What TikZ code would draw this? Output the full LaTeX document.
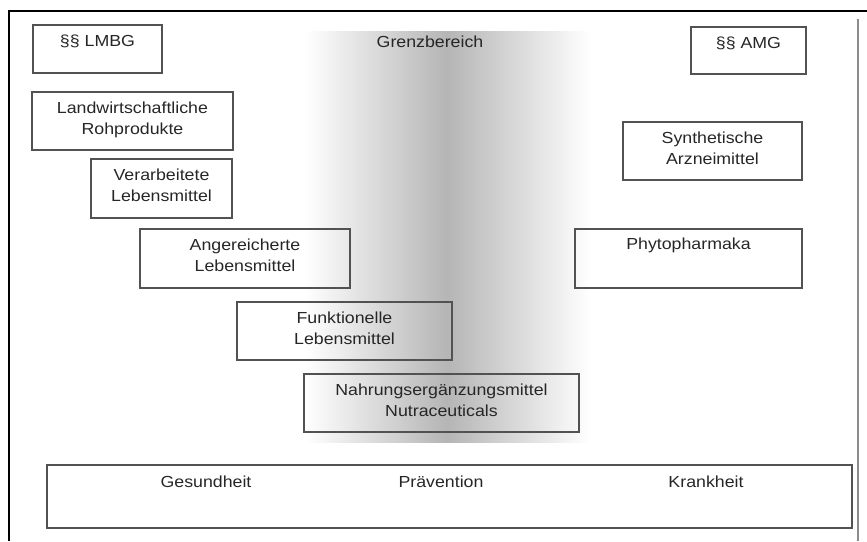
\documentclass[tikz,border=0pt]{standalone}
\usepackage{fontspec}
\setmainfont{Liberation Sans}[FakeStretch=1.11]
\begin{document}
\begin{tikzpicture}[x=1pt,y=-1pt,
  box/.style={draw=black!68,line width=1.1pt,inner sep=0pt,rectangle},
  lbl/.style={font=\fontsize{16}{21}\selectfont,text=black!85,align=center,inner sep=0pt,anchor=base}]
\useasboundingbox (0,0) rectangle (867,541);
% gradient band (Grenzbereich)
\shade[left color=white,right color=black!29] (305,31) rectangle (447,442);
\shade[left color=black!29,right color=white] (447,31) rectangle (590,442);
% outer frame
\draw[line width=2pt] (9,541) -- (9,11) -- (867,11);
\draw[black!45,line width=1.5pt] (858,19) -- (858,541);
% boxes
\node[box,minimum width=129pt,minimum height=48pt] (lmbg) at (97.5,49) {};
\node[box,minimum width=115pt,minimum height=47pt] (amg) at (748.5,50.5) {};
\node[box,minimum width=201pt,minimum height=58pt] (roh) at (132.5,121) {};
\node[box,minimum width=141pt,minimum height=59pt] (verarb) at (161.5,188.5) {};
\node[box,minimum width=210pt,minimum height=59pt] (angere) at (245,258.5) {};
\node[box,minimum width=215pt,minimum height=58pt] (funkt) at (344.5,331) {};
\node[box,minimum width=275pt,minimum height=58pt] (nahr) at (441.5,403) {};
\node[box,minimum width=179pt,minimum height=58pt] (synth) at (712.5,151) {};
\node[box,minimum width=227pt,minimum height=59pt] (phyto) at (688.5,258.5) {};
\node[box,minimum width=805pt,minimum height=63pt] (scale) at (449.5,496.5) {};
% texts (base anchor = baseline of last line)
\node[lbl] (tlmbg) at ([yshift=-22pt]lmbg.north) {§§ LMBG};
\node[lbl] (tamg) at ([yshift=-22pt]amg.north) {§§ AMG};
\node[lbl] (grenz) at (430,47) {Grenzbereich};
\node[lbl] (troh) at ([yshift=-43pt]roh.north) {Landwirtschaftliche\\Rohprodukte};
\node[lbl] (tverarb) at ([yshift=-43.5pt]verarb.north) {Verarbeitete\\Lebensmittel};
\node[lbl] (tangere) at ([yshift=-43pt]angere.north) {Angereicherte\\Lebensmittel};
\node[lbl] (tfunkt) at ([yshift=-43pt]funkt.north) {Funktionelle\\Lebensmittel};
\node[lbl] (tnahr) at ([yshift=-43pt]nahr.north) {Nahrungsergänzungsmittel\\Nutraceuticals};
\node[lbl] (tsynth) at ([yshift=-43.5pt]synth.north) {Synthetische\\Arzneimittel};
\node[lbl] (tphyto) at ([yshift=-21pt]phyto.north) {Phytopharmaka};
\node[lbl] (ges) at (206,487) {Gesundheit};
\node[lbl] (prae) at (441,487) {Prävention};
\node[lbl] (krank) at (706,487) {Krankheit};
\end{tikzpicture}
\end{document}
